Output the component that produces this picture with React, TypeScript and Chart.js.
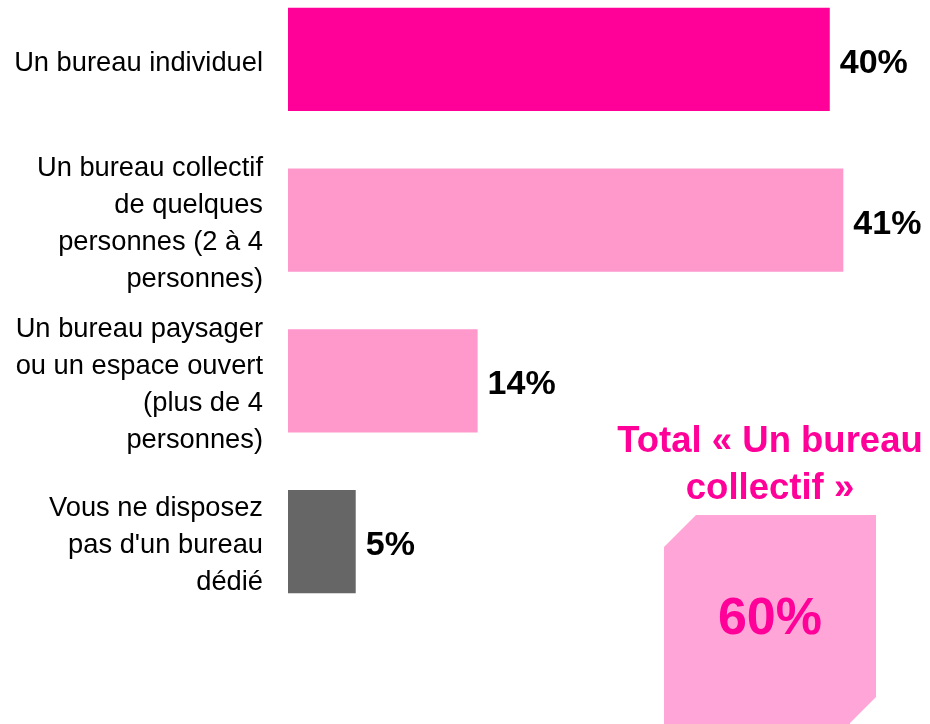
import React, { useEffect, useRef } from "react";
import { Chart, registerables } from "chart.js";

Chart.register(...registerables);

const categories: string[][] = [
  ["Un bureau individuel"],
  ["Un bureau collectif", "de quelques", "personnes (2 à 4", "personnes)"],
  ["Un bureau paysager", "ou un espace ouvert", "(plus de 4", "personnes)"],
  ["Vous ne disposez", "pas d'un bureau", "dédié"],
];
const values: number[] = [40, 41, 14, 5];
const valueLabels: string[] = ["40%", "41%", "14%", "5%"];
const barColors: string[] = ["#FF0099", "#FF99CC", "#FF99CC", "#666666"];
const totalTitle: string[] = ["Total « Un bureau", "collectif »"];
const totalValue = "60%";

const FONT = '"Liberation Sans", Arial, Helvetica, sans-serif';

const valueLabelPlugin = {
  id: "valueLabels",
  afterDatasetsDraw(chart: any) {
    const ctx = chart.ctx;
    const meta = chart.getDatasetMeta(0);
    ctx.save();
    ctx.font = `bold 34px ${FONT}`;
    ctx.fillStyle = "#000000";
    ctx.textAlign = "left";
    ctx.textBaseline = "middle";
    meta.data.forEach((bar: any, i: number) => {
      ctx.fillText(valueLabels[i], bar.x + 10, bar.y + 4);
    });
    ctx.restore();
  },
};

export default function App() {
  const canvasRef = useRef<HTMLCanvasElement | null>(null);

  useEffect(() => {
    if (!canvasRef.current) return;
    const chart = new Chart(canvasRef.current, {
      type: "bar",
      data: {
        labels: categories,
        datasets: [
          {
            data: values,
            backgroundColor: barColors,
            borderWidth: 0,
            categoryPercentage: 1,
            barPercentage: 0.642,
          },
        ],
      },
      options: {
        indexAxis: "y",
        animation: false,
        responsive: true,
        maintainAspectRatio: false,
        layout: { autoPadding: false, padding: { top: 0, bottom: 104, left: 0, right: 0 } },
        plugins: {
          legend: { display: false },
          tooltip: { enabled: false },
        },
        scales: {
          x: {
            display: false,
            min: 0,
            max: 47.4,
          },
          y: {
            grid: { display: false, drawTicks: false },
            border: { display: false },
            afterFit: (scale: any) => {
              scale.width = 288;
              scale.paddingTop = 0;
              scale.paddingBottom = 0;
            },
            ticks: {
              padding: 25,
              labelOffset: 4,
              color: "#000000",
              font: { family: FONT, size: 27.3, lineHeight: 1.35 },
            },
          },
        },
      },
      plugins: [valueLabelPlugin],
    });
    return () => chart.destroy();
  }, []);

  return (
    <div
      style={{
        position: "fixed",
        left: 0,
        top: 0,
        width: 930,
        height: 724,
        overflow: "hidden",
        background: "#ffffff",
        fontFamily: FONT,
      }}
    >
      <div style={{ position: "absolute", left: 0, top: -21, width: 930, height: 747 }}>
        <canvas ref={canvasRef} />
      </div>
      <div
        style={{
          position: "absolute",
          left: 570,
          top: 416,
          width: 400,
          textAlign: "center",
          color: "#FF0099",
          fontWeight: "bold",
          fontSize: 36.5,
          lineHeight: "47px",
          whiteSpace: "nowrap",
        }}
      >
        {totalTitle[0]}
        <br />
        {totalTitle[1]}
      </div>
      <div
        style={{
          position: "absolute",
          left: 664,
          top: 515,
          width: 212,
          height: 240,
          background: "#FFA5D8",
          clipPath:
            "polygon(32px 0, 212px 0, 212px 182px, 186px 208px, 186px 240px, 0 240px, 0 32px)",
        }}
      />
      <div
        style={{
          position: "absolute",
          left: 664,
          top: 590,
          width: 212,
          textAlign: "center",
          color: "#FF0099",
          fontWeight: "bold",
          fontSize: 52,
          lineHeight: "52px",
        }}
      >
        {totalValue}
      </div>
    </div>
  );
}
